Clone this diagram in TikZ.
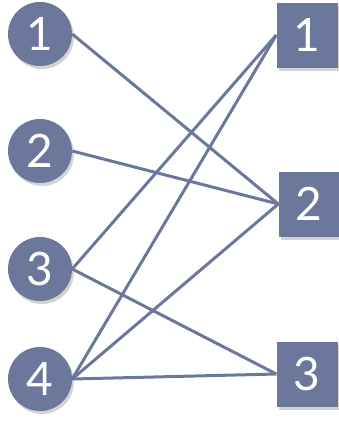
\documentclass[tikz,border=0pt]{standalone}
\usepackage{fontspec}
\setmainfont{Lato}
\usetikzlibrary{positioning,shadows}
\definecolor{slate}{RGB}{108,119,156}
\tikzset{
  leftnode/.style={circle, fill=slate, minimum size=64pt, inner sep=0pt, text=white, font=\fontsize{46}{46}\selectfont, drop shadow={opacity=0.35, shadow xshift=2pt, shadow yshift=-3pt}},
  rightnode/.style={rectangle, fill=slate, minimum width=61pt, minimum height=65pt, inner sep=0pt, text=white, font=\fontsize{46}{46}\selectfont, drop shadow={opacity=0.35, shadow xshift=2pt, shadow yshift=-3pt}},
  edgeline/.style={draw=slate, line width=3pt}
}
\begin{document}
\begin{tikzpicture}[x=1pt, y=-1pt]
  \useasboundingbox (0,0) rectangle (338,421);
  \node[leftnode] (l1) at (40,34) {1};
  \node[leftnode] (l2) at (40,151) {2};
  \node[leftnode] (l3) at (40,269) {3};
  \node[leftnode] (l4) at (40,379) {4};
  \node[rightnode] (r1) at (307,35) {1};
  \node[rightnode] (r2) at (309,204) {2};
  \node[rightnode] (r3) at (307,374) {3};
  \draw[edgeline] (l1.east) -- (r2.west);
  \draw[edgeline] (l2.east) -- (r2.west);
  \draw[edgeline] (l3.east) -- (r1.west);
  \draw[edgeline] (l3.east) -- (r3.west);
  \draw[edgeline] (l4.east) -- (r1.west);
  \draw[edgeline] (l4.east) -- (r2.west);
  \draw[edgeline] (l4.east) -- (r3.west);
\end{tikzpicture}
\end{document}
